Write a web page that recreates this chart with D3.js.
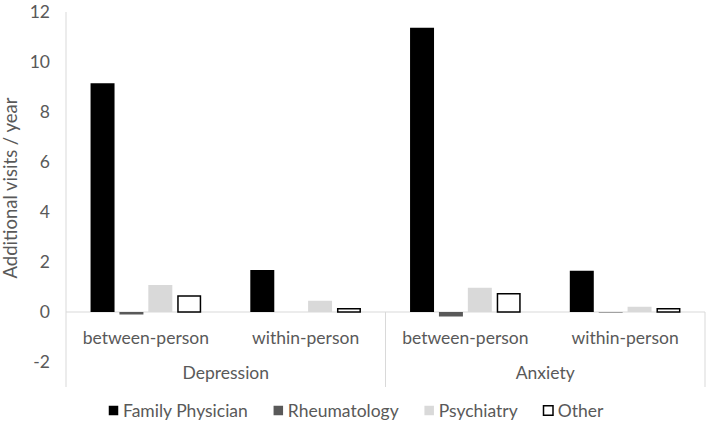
<!DOCTYPE html>
<html>
<head>
<meta charset="utf-8">
<script src="https://cdn.jsdelivr.net/npm/d3@7"></script>
<style>
  body { margin: 0; background: #fff; }
  text { font-family: Lato, "Open Sans", sans-serif; fill: #595959; }
</style>
</head>
<body>
<div id="chart"></div>
<script>
// data
var groups = ["Depression", "Anxiety"];
var subCats = ["between-person", "within-person"];
var series = ["Family Physician", "Rheumatology", "Psychiatry", "Other"];
var familyPhysician = [9.15, 1.68, 11.37, 1.65];
var rheumatology = [-0.1, 0, -0.18, -0.02];
var psychiatry = [1.08, 0.45, 0.97, 0.21];
var other = [0.64, 0.13, 0.73, 0.13];
var yTicks = [-2, 0, 2, 4, 6, 8, 10, 12];

var fills = ["#000000", "#595959", "#d9d9d9", "#ffffff"];
var strokes = ["none", "none", "none", "#000000"];

var W = 709, H = 424;
var plotLeft = 66, plotRight = 705, plotTop = 12, plotBottom = 387;

var svg = d3.select("#chart").append("svg")
    .attr("width", W)
    .attr("height", H);

var y = d3.scaleLinear()
    .domain([-2, 12])
    .range([362, plotTop]);

// one band per sub-category, in order Depression/between ... Anxiety/within
var cells = [];
groups.forEach(function(g) {
    subCats.forEach(function(s) { cells.push(g + "|" + s); });
});

var x0 = d3.scaleBand()
    .domain(cells)
    .range([plotLeft, plotRight]);

var x1 = d3.scaleBand()
    .domain(series)
    .range([0, x0.bandwidth()])
    .paddingInner(0.17)
    .paddingOuter(0.85);

var gx = d3.scaleBand()
    .domain(groups)
    .range([plotLeft, plotRight]);

// y axis
svg.append("line")
    .attr("x1", plotLeft).attr("x2", plotLeft)
    .attr("y1", plotTop).attr("y2", plotBottom)
    .attr("stroke", "#d9d9d9");

svg.append("g").selectAll("text")
    .data(yTicks)
    .enter()
    .append("text")
    .attr("x", 50)
    .attr("y", function(d) { return y(d); })
    .attr("dy", "0.35em")
    .attr("text-anchor", "end")
    .style("font-size", "17.5px")
    .text(function(d) { return d; });

svg.append("text")
    .attr("transform", "translate(17," + 188 + ") rotate(-90)")
    .attr("text-anchor", "middle")
    .style("font-size", "18.5px")
    .text("Additional visits / year");

// category axis
svg.append("line")
    .attr("x1", plotLeft).attr("x2", plotRight)
    .attr("y1", y(0)).attr("y2", y(0))
    .attr("stroke", "#d9d9d9");

svg.selectAll(".sep")
    .data([plotLeft + gx.bandwidth(), plotRight])
    .enter()
    .append("line")
    .attr("x1", function(d) { return d; })
    .attr("x2", function(d) { return d; })
    .attr("y1", y(0))
    .attr("y2", plotBottom)
    .attr("stroke", "#d9d9d9");

svg.selectAll(".sub")
    .data(cells)
    .enter()
    .append("text")
    .attr("x", function(d) { return x0(d) + x0.bandwidth() / 2; })
    .attr("y", 338)
    .attr("dy", "0.35em")
    .attr("text-anchor", "middle")
    .style("font-size", "17.5px")
    .text(function(d) { return d.split("|")[1]; });

svg.selectAll(".grp")
    .data(groups)
    .enter()
    .append("text")
    .attr("x", function(d) { return gx(d) + gx.bandwidth() / 2; })
    .attr("y", 373)
    .attr("dy", "0.35em")
    .attr("text-anchor", "middle")
    .style("font-size", "17.5px")
    .text(function(d) { return d; });

// bars
var seriesValues = [familyPhysician, rheumatology, psychiatry, other];

series.forEach(function(name, i) {
    var inset = strokes[i] === "none" ? 0 : 0.75;
    svg.append("g")
        .selectAll("rect")
        .data(seriesValues[i])
        .enter()
        .append("rect")
        .attr("x", function(d, j) { return x0(cells[j]) + x1(name) + inset; })
        .attr("y", function(d) { return Math.min(y(d), y(0)); })
        .attr("width", x1.bandwidth() - 2 * inset)
        .attr("height", function(d) { return Math.abs(y(d) - y(0)); })
        .attr("fill", fills[i])
        .attr("stroke", strokes[i])
        .attr("stroke-width", 1.5);
});

// legend
var legend = svg.append("g");
var lx = 108;
series.forEach(function(name, i) {
    var item = legend.append("g").attr("transform", "translate(" + lx + ",0)");
    item.append("rect")
        .attr("x", 0.75)
        .attr("y", 405.75)
        .attr("width", 9.5)
        .attr("height", 9.5)
        .attr("fill", fills[i])
        .attr("stroke", strokes[i])
        .attr("stroke-width", 1.5);
    var t = item.append("text")
        .attr("x", 15)
        .attr("y", 411)
        .attr("dy", "0.35em")
        .style("font-size", "17.5px")
        .text(name);
    lx += 15 + t.node().getComputedTextLength() + 25;
});
</script>
</body>
</html>
